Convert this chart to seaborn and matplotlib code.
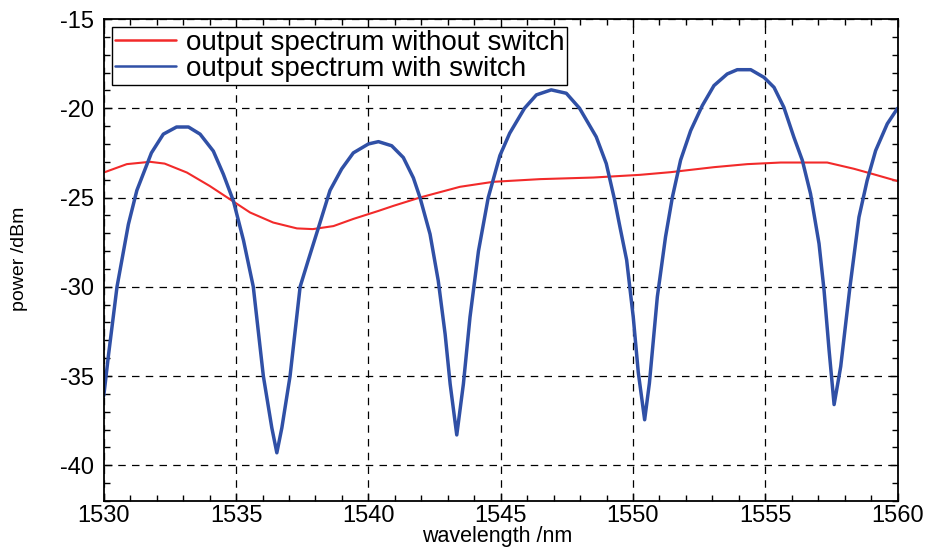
import numpy as np
import pandas as pd
import seaborn as sns
import matplotlib
matplotlib.use("Agg")
import matplotlib.pyplot as plt
from matplotlib.ticker import MultipleLocator

# ---- data ----
blue_x = [1530.0, 1530.18, 1530.5, 1530.93, 1531.25, 1531.8, 1532.25, 1532.75, 1533.2, 1533.64,
          1534.14, 1534.52, 1534.9, 1535.28, 1535.65, 1536.03, 1536.35, 1536.54, 1536.73, 1537.04,
          1537.42, 1537.73, 1538.11, 1538.55, 1538.99, 1539.43, 1540.0, 1540.38, 1540.88, 1541.32,
          1541.7, 1541.95, 1542.33, 1542.64, 1542.9, 1543.09, 1543.34, 1543.59, 1543.84, 1544.16,
          1544.53, 1544.97, 1545.34, 1545.9, 1546.35, 1546.91, 1547.48, 1547.98, 1548.61, 1548.99,
          1549.3, 1549.5, 1549.76, 1550.01, 1550.2, 1550.44, 1550.62, 1550.92, 1551.23, 1551.49,
          1551.8, 1552.18, 1552.62, 1553.06, 1553.56, 1553.94, 1554.45, 1554.95, 1555.33, 1555.7,
          1556.08, 1556.4, 1556.71, 1557.03, 1557.22, 1557.41, 1557.6, 1557.85, 1558.2, 1558.54,
          1558.85, 1559.17, 1559.61, 1560.0]
blue_y = [-36.1, -33.8, -30.0, -26.5, -24.6, -22.5, -21.45, -21.05, -21.05, -21.45,
          -22.4, -23.7, -25.2, -27.4, -30.0, -35.0, -37.9, -39.3, -37.9, -35.0,
          -30.0, -28.5, -26.7, -24.6, -23.4, -22.5, -22.0, -21.87, -22.1, -22.76,
          -23.9, -25.0, -27.05, -29.66, -32.65, -35.45, -38.3, -35.45, -31.7, -28.0,
          -25.0, -22.65, -21.4, -20.0, -19.25, -18.97, -19.16, -20.0, -21.6, -23.1,
          -25.1, -26.6, -28.5, -31.7, -34.8, -37.45, -35.4, -30.56, -27.2, -24.97,
          -22.9, -21.25, -19.85, -18.73, -18.08, -17.84, -17.84, -18.27, -18.83, -19.94,
          -21.62, -22.92, -24.79, -27.58, -30.19, -33.54, -36.6, -34.47, -30.0, -26.1,
          -24.04, -22.37, -20.87, -20.0]

red_x = [1530.0, 1530.87, 1531.75, 1532.3, 1533.14, 1534.0, 1534.77, 1535.53, 1536.4, 1537.3,
         1537.9, 1538.68, 1539.43, 1540.38, 1540.94, 1541.95, 1543.46, 1544.72, 1546.49, 1548.5,
         1550.26, 1551.42, 1553.06, 1554.32, 1555.58, 1557.34, 1558.35, 1559.1, 1560.0]
red_y = [-23.6, -23.13, -23.0, -23.1, -23.6, -24.35, -25.1, -25.84, -26.4, -26.73,
         -26.77, -26.6, -26.2, -25.75, -25.47, -25.0, -24.4, -24.12, -23.97, -23.88,
         -23.73, -23.58, -23.3, -23.13, -23.04, -23.04, -23.39, -23.7, -24.08]

label_red = "output spectrum without switch"
label_blue = "output spectrum with switch"
x_ticks = [1530, 1535, 1540, 1545, 1550, 1555, 1560]
y_ticks = [-40, -35, -30, -25, -20, -15]

sns.set_theme(style="white")
plt.rcParams['font.family'] = ['Liberation Sans', 'DejaVu Sans']
plt.rcParams['axes.unicode_minus'] = False

fig = plt.figure(figsize=(9.35, 5.48), dpi=100)
ax = fig.add_axes([0.111, 1 - 501 / 548, 0.849, (501 - 19) / 548])

df_red = pd.DataFrame({"x": red_x, "y": red_y})
df_blue = pd.DataFrame({"x": blue_x, "y": blue_y})
sns.lineplot(data=df_red, x="x", y="y", ax=ax, color="#f22a2a", linewidth=1.5,
             sort=False, estimator=None, label=label_red)
sns.lineplot(data=df_blue, x="x", y="y", ax=ax, color="#3050a6", linewidth=2.5,
             sort=False, estimator=None, label=label_blue)

ax.set_xlim(1530, 1560)
ax.set_ylim(-42, -15)
ax.set_xticks(x_ticks)
ax.set_yticks(y_ticks)
ax.xaxis.set_minor_locator(MultipleLocator(1))
ax.yaxis.set_minor_locator(MultipleLocator(1))
ax.tick_params(which="both", direction="in", top=True, right=True, bottom=True, left=True,
               color="black", width=1.0)
ax.tick_params(which="major", length=6, labelsize=17, labelcolor="black")
ax.tick_params(axis="x", which="major", pad=3)
ax.tick_params(axis="y", which="major", pad=7)
ax.tick_params(which="minor", length=4)
ax.grid(True, which="major", color="black", linestyle=(0, (6, 5)), linewidth=0.9)
for s in ax.spines.values():
    s.set_color("black")
    s.set_linewidth(1.3)

ax.set_xlabel("")
ax.set_ylabel("")
fig.text(0.532, 1 / 548, "wavelength /nm", fontsize=15.5, ha="center", va="bottom",
         color="black")
fig.text(20 / 935, 1 - 259 / 548, "power /dBm", fontsize=14, ha="center", va="center",
         rotation=90, color="black")

leg = ax.legend(loc="upper left", fontsize=20, frameon=True, fancybox=False,
                edgecolor="black", handlelength=2.2, labelspacing=0.0,
                borderpad=0.1, handletextpad=0.35, borderaxespad=0.3)
leg.get_frame().set_linewidth(1.0)
leg.get_frame().set_alpha(1.0)
for t in leg.get_texts():
    t.set_color("black")
for h in leg.get_lines():
    h.set_linewidth(1.8)

fig.savefig("out.png", dpi=100)
